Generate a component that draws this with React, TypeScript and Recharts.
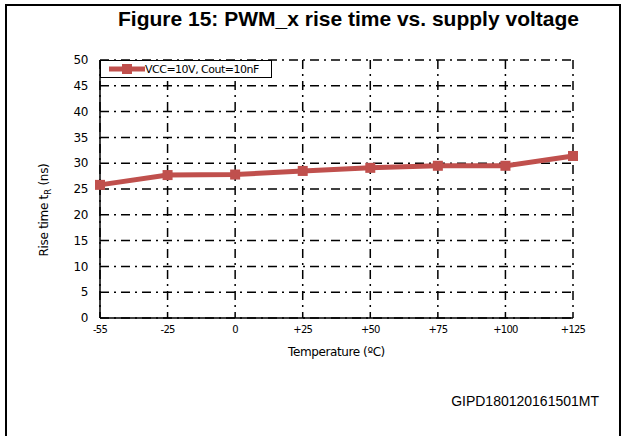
import React from 'react';
import { LineChart, Line, XAxis, YAxis, CartesianGrid } from 'recharts';

const temperatures = ['-55', '-25', '0', '+25', '+50', '+75', '+100', '+125'];
const riseTime = [25.8, 27.7, 27.8, 28.5, 29.1, 29.5, 29.5, 31.4];
const yTicks = [0, 5, 10, 15, 20, 25, 30, 35, 40, 45, 50];

const RED = '#C0504D';
const data = temperatures.map((t, i) => ({ t, rise: riseTime[i] }));

const SquareDot = (props: any) => {
  const { cx, cy } = props;
  if (cx == null || cy == null) return null;
  return <rect x={cx - 5} y={cy - 5} width={10} height={10} fill={RED} />;
};

const YLabel = () => (
  <text
    x={48}
    y={210}
    transform="rotate(-90 48 210)"
    textAnchor="middle"
    fontFamily="DejaVu Sans"
    fontSize={12}
    fill="#000"
    letterSpacing={-0.3}
  >
    Rise time t<tspan fontSize={9} dy={3}>R</tspan>
    <tspan dy={-3}> (ns)</tspan>
  </text>
);

export default function App() {
  return (
    <div style={{ position: 'absolute', left: 0, top: 0, width: 627, height: 436, background: '#fff' }}>
      <div
        style={{
          position: 'absolute',
          left: 5,
          top: 4,
          width: 616,
          height: 440,
          border: '2px solid #000',
          boxSizing: 'border-box',
        }}
      />
      <div
        style={{
          position: 'absolute',
          left: 0,
          top: 7,
          width: 697,
          textAlign: 'center',
          fontFamily: 'Liberation Sans',
          fontWeight: 'bold',
          fontSize: 21,
          color: '#000',
        }}
      >
        Figure 15: PWM_x rise time vs. supply voltage
      </div>
      <div
        style={{
          position: 'absolute',
          right: 28,
          top: 393,
          fontFamily: 'Liberation Sans',
          fontSize: 14,
          color: '#000',
        }}
      >
        GIPD180120161501MT
      </div>
      <LineChart
        width={627}
        height={436}
        data={data}
        margin={{ top: 60, right: 54, bottom: 88, left: 60 }}
        style={{ position: 'absolute', left: 0, top: 0 }}
      >
        <CartesianGrid stroke="#000" strokeWidth={1.5} strokeDasharray="9 5 2 5" />
        <XAxis
          dataKey="t"
          height={30}
          axisLine={{ stroke: '#000', strokeWidth: 1.5 }}
          tickLine={false}
          tick={{ fontFamily: 'DejaVu Sans', fontSize: 10, fill: '#000', letterSpacing: -0.8 }}
          label={{
            value: 'Temperature (ºC)',
            position: 'insideBottom',
            offset: -8,
            fontFamily: 'DejaVu Sans',
            fontSize: 12,
            fill: '#000',
            letterSpacing: -0.4,
          }}
        />
        <YAxis
          width={40}
          domain={[0, 50]}
          ticks={yTicks}
          interval={0}
          axisLine={{ stroke: '#000', strokeWidth: 1.5 }}
          tickLine={false}
          tickMargin={6}
          tick={{ fontFamily: 'DejaVu Sans', fontSize: 12, fill: '#000', letterSpacing: -0.4 }}
        />
        <Line
          type="linear"
          dataKey="rise"
          stroke={RED}
          strokeWidth={5}
          dot={<SquareDot />}
          activeDot={false}
          isAnimationActive={false}
        />
        <YLabel />
      </LineChart>
      <div
        style={{
          position: 'absolute',
          left: 100,
          top: 60,
          width: 172,
          height: 18,
          border: '1.5px solid #000',
          background: '#fff',
          display: 'flex',
          alignItems: 'center',
          fontFamily: 'DejaVu Sans',
          fontSize: 11,
          letterSpacing: -0.5,
          boxSizing: 'border-box',
          whiteSpace: 'nowrap',
        }}
      >
        <svg width={36} height={14} style={{ marginLeft: 8 }}>
          <line x1={0} y1={7} x2={36} y2={7} stroke={RED} strokeWidth={5} />
          <rect x={13} y={2} width={10} height={10} fill={RED} />
        </svg>
        <span>VCC=10V, Cout=10nF</span>
      </div>
    </div>
  );
}
